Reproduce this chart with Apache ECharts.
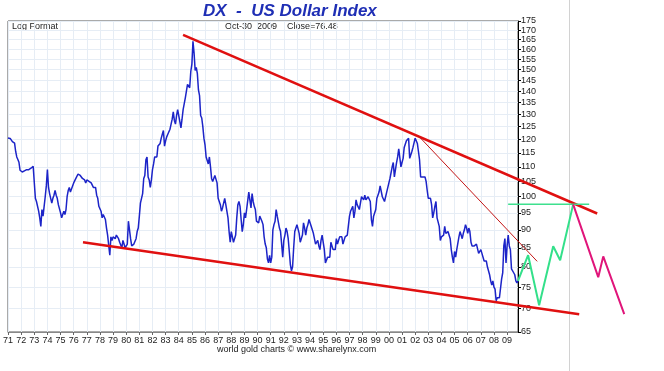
<!DOCTYPE html>
<html><head><meta charset="utf-8">
<script src="https://cdn.jsdelivr.net/npm/echarts@6/dist/echarts.min.js"></script>
<style>html,body{margin:0;padding:0;background:#fff}#c{width:664px;height:371px}</style>
</head><body><div id="c"></div>
<script>
// ---- data (monthly DX values, Jan 1971 .. Oct 2009) ----
const startYear = 1971;
const dx1970s = [
120.6,120.5,120.4,120.3,119.2,118.8,118.6,115.5,113.5,112.6,111.6,108.8,
108.5,108.2,108.4,108.6,108.6,109.0,108.9,109.0,109.3,109.5,110.0,110.2,
110.3,99.5,98.5,98.0,95.5,93.5,91.0,96.0,94.0,94.5,100.0,103.5,
109.0,103.0,101.0,99.5,98.0,99.5,100.5,102.0,100.5,99.5,97.5,97.0,
95.0,93.5,93.5,95.5,94.5,96.0,100.0,102.0,103.0,101.5,102.5,103.5,
104.5,105.0,106.0,106.5,107.5,107.0,107.0,106.5,106.0,105.5,105.5,104.5,
105.5,106.0,105.0,105.0,104.5,104.5,103.0,103.5,103.0,100.5,99.5,97.0,
96.5,95.5,93.5,94.5,94.0,93.0,90.5,88.5,88.0,83.0,88.0,87.0,
88.0,88.0,87.5,88.5,89.0,87.5,86.5,86.5,85.0,87.0,86.0,85.0];
const dx1980s = [
84.5,86.0,92.5,93.0,87.5,85.5,85.0,86.0,85.5,87.5,89.5,90.5,
94.0,98.0,97.5,101.0,106.0,107.0,112.5,113.5,106.5,105.5,103.0,105.5,
109.0,111.0,113.5,114.0,113.5,117.5,117.5,118.5,120.5,122.0,123.5,117.5,
119.5,121.0,122.0,121.5,124.0,126.0,128.0,131.0,127.5,126.0,129.5,132.0,
132.5,127.0,124.5,128.0,132.0,132.5,137.0,136.5,143.0,143.5,141.5,149.0,
152.5,164.0,158.0,149.5,151.0,148.0,140.5,138.0,129.5,128.5,125.0,120.5,
118.0,113.5,113.5,111.0,113.5,110.0,106.0,105.0,105.5,107.0,106.5,104.5,
99.5,99.0,97.5,95.5,96.5,98.0,99.5,97.5,98.0,93.5,89.5,86.5,
89.5,89.5,86.5,87.0,88.5,93.5,97.5,98.5,97.0,93.0,89.5,91.5,
95.0,93.5,96.0,96.5,101.5,101.0,96.5,101.0,98.5,97.0,96.0,92.5];
const dx1990s = [
92.0,92.0,94.0,93.5,92.5,91.5,88.0,86.0,85.0,82.0,81.0,83.0,
81.0,82.5,90.0,91.5,92.5,96.0,94.0,93.5,90.5,89.5,86.0,82.5,
87.0,88.5,90.5,89.5,87.5,84.0,80.5,79.0,80.0,85.0,89.5,89.0,
91.5,91.5,89.0,86.5,86.5,88.5,92.0,90.5,88.5,90.5,91.5,93.0,
92.5,91.0,90.5,89.0,89.0,86.0,86.5,87.0,85.5,84.5,87.0,88.5,
86.5,84.5,81.0,81.0,82.5,82.0,82.5,86.5,85.5,84.5,84.5,84.5,
87.5,86.0,86.5,88.0,88.0,88.0,86.0,86.5,88.0,88.0,88.5,88.5,
94.0,95.5,95.0,97.0,93.5,95.5,99.0,97.5,97.0,96.0,98.0,100.0,
99.5,99.0,100.5,99.0,99.0,100.0,100.5,98.5,93.0,91.0,94.0,94.0,
96.0,99.5,100.5,101.5,103.5,103.0,100.0,100.0,98.5,98.5,101.5,101.5];
const dx2000s = [
104.5,106.0,106.0,110.0,111.5,106.5,109.0,111.5,113.5,116.5,116.0,110.0,
111.5,113.0,117.0,116.5,119.5,120.0,120.5,113.0,113.0,115.5,117.0,117.0,
120.5,119.5,118.5,115.5,112.5,106.5,107.0,106.5,106.5,106.5,105.0,102.0,
99.5,99.5,99.5,97.5,93.5,95.0,97.0,98.5,93.5,93.0,91.0,87.0,
88.0,88.5,88.5,91.0,89.0,89.0,89.5,89.0,87.5,84.5,82.5,81.0,
84.0,82.5,84.5,84.5,88.0,89.5,88.5,87.5,89.0,90.0,91.5,90.5,
89.0,90.5,89.5,86.5,85.5,85.5,85.5,85.5,86.0,85.5,83.5,83.5,
84.5,83.5,83.0,81.5,82.0,81.5,80.0,80.5,78.0,76.5,75.5,76.5,
75.0,74.5,71.8,72.5,72.8,72.5,72.5,77.0,78.5,85.5,87.5,81.0,
85.5,88.5,85.5,84.5,79.5,80.0,78.5,78.0,76.5,76.0];
const lastDate = 2009.83, lastClose = 76.48;

const yTicks = [65,70,75,80,85,90,95,100,105,110,115,120,125,130,135,140,145,150,155,160,165,170,175];

// drawn annotations (year, index value)
const upperTrend = [[1984.33,167.4],[2015.86,94.8]];
const lowerTrend = [[1976.71,86.5],[2014.49,68.8]];
const thinTrend  = [[2002.23,121.5],[2011.29,81.4]];
const greenLevel = [[2009.08,97.6],[2015.25,97.6]];
const greenPath  = [[2009.83,76.5],[2010.60,83.0],[2011.44,70.8],[2012.51,85.4],[2013.04,81.7],[2014.03,97.6]];
const magentaPath= [[2014.03,97.6],[2015.94,77.4],[2016.32,82.7],[2017.92,68.8]];

// ---- build ----
const monthly = dx1970s.concat(dx1980s, dx1990s, dx2000s);
const dxData = monthly.map((v, i) => [startYear + i / 12, v]);
dxData.push([lastDate, lastClose]);

const G_LEFT = 8, G_TOP = 21, G_H = 311, G_W = 510, G2_W = 650;
const xMax2 = startYear + (lastDate - startYear) * G2_W / G_W;
const yMin = yTicks[0], yMax = yTicks[yTicks.length - 1];
const grid = '#e6edf5';
const font = '"Liberation Sans", Arial, sans-serif';

const chart = echarts.init(document.getElementById('c'), null, {renderer: 'canvas'});
const ov = (data, color, width) => ({
  type: 'line', xAxisIndex: 1, yAxisIndex: 2, data, showSymbol: false, clip: false,
  lineStyle: {color, width}, silent: true, z: 5
});
chart.setOption({
  animation: false,
  backgroundColor: '#fff',
  grid: [
    {left: G_LEFT, top: G_TOP, width: G_W, height: G_H, show: true, borderColor: '#555', borderWidth: 1},
    {left: G_LEFT, top: G_TOP, width: G2_W, height: G_H, show: false}
  ],
  xAxis: [
    {type: 'value', gridIndex: 0, min: startYear, max: lastDate, interval: 1,
     axisLine: {lineStyle: {color: '#888'}},
     axisTick: {length: 3, lineStyle: {color: '#666'}},
     axisLabel: {fontSize: 9, color: '#222', fontFamily: font, margin: 4, showMaxLabel: false,
       formatter: v => { const y = Math.round(v) % 100; return (y < 10 ? '0' : '') + y; }},
     splitLine: {show: true, lineStyle: {color: grid, width: 1}}},
    {type: 'value', gridIndex: 1, min: startYear, max: xMax2, show: false}
  ],
  yAxis: [
    {type: 'log', gridIndex: 0, min: yMin, max: yMax, show: false, position: 'left'},
    {type: 'value', gridIndex: 0, position: 'right', min: Math.log(yMin), max: Math.log(yMax),
     axisLine: {show: true, lineStyle: {color: '#000'}},
     axisTick: {show: true, length: 3, customValues: yTicks.map(Math.log), lineStyle: {color: '#000'}},
     axisLabel: {fontSize: 9, color: '#222', fontFamily: font, margin: 3,
       customValues: yTicks.map(Math.log), formatter: v => String(Math.round(Math.exp(v)))},
     splitLine: {show: true, lineStyle: {color: grid, width: 1}}},
    {type: 'log', gridIndex: 1, min: yMin, max: yMax, show: false}
  ],
  graphic: [
    {type: 'line', shape: {x1: 569.5, y1: 0, x2: 569.5, y2: 371}, style: {stroke: '#d2d2d2', lineWidth: 1}, z: 0, silent: true},
    {type: 'text', left: 203, top: 3, style: {text: 'DX  -  US Dollar Index', font: 'italic bold 17px ' + font, fill: '#1f2fb5'}},
    {type: 'text', left: 12, top: 22, style: {text: 'Log Format', font: '9px ' + font, fill: '#222'}},
    {type: 'text', left: 225, top: 22, style: {text: 'Oct-30  2009    Close=76.48', font: '9px ' + font, fill: '#222'}},
    {type: 'text', left: 217, top: 345, style: {text: 'world gold charts \u00a9 www.sharelynx.com', font: '9px ' + font, fill: '#222'}}
  ],
  series: [
    {type: 'line', xAxisIndex: 0, yAxisIndex: 0, data: dxData, showSymbol: false,
     lineStyle: {color: '#1c24c8', width: 1.5}, silent: true, z: 3},
    ov(upperTrend, '#e01010', 2.5),
    ov(lowerTrend, '#e01010', 2.5),
    ov(thinTrend, '#c41616', 1),
    ov(greenLevel, '#3ee08e', 1.5),
    ov(greenPath, '#33e08a', 2),
    ov(magentaPath, '#e0157a', 2)
  ]
});
</script></body></html>
